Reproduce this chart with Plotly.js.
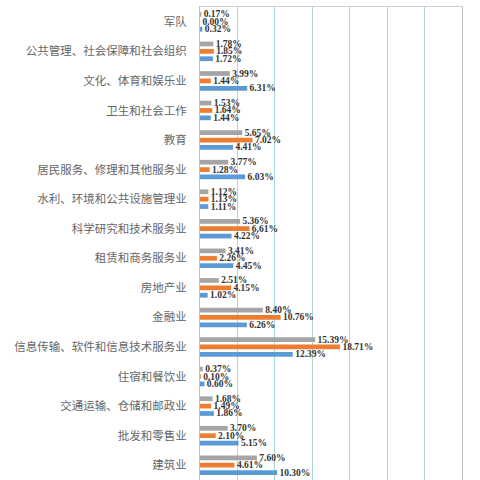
<!DOCTYPE html>
<html>
<head>
<meta charset="utf-8">
<script src="https://cdn.plot.ly/plotly-3.0.1.min.js"></script>
<style>
  html, body { margin: 0; padding: 0; background: #fff; }
  #chart { width: 480px; height: 480px; }
</style>
</head>
<body>
<div id="chart"></div>
<script>
// categories, top to bottom
const industries = [
    '军队', '公共管理、社会保障和社会组织', '文化、体育和娱乐业', '卫生和社会工作',
    '教育', '居民服务、修理和其他服务业', '水利、环境和公共设施管理业', '科学研究和技术服务业',
    '租赁和商务服务业', '房地产业', '金融业', '信息传输、软件和信息技术服务业',
    '住宿和餐饮业', '交通运输、仓储和邮政业', '批发和零售业', '建筑业'
];
const seriesNames = ['系列1', '系列2', '系列3'];
const greyValues = [0.17, 1.78, 3.99, 1.53, 5.65, 3.77, 1.12, 5.36, 3.41, 2.51, 8.40, 15.39, 0.37, 1.68, 3.70, 7.60];
const orangeValues = [0.00, 1.85, 1.44, 1.64, 7.02, 1.28, 1.13, 6.61, 2.26, 4.15, 10.76, 18.71, 0.10, 1.49, 2.10, 4.61];
const blueValues = [0.32, 1.72, 6.31, 1.44, 4.41, 6.03, 1.11, 4.22, 4.45, 1.02, 6.26, 12.39, 0.60, 1.86, 5.15, 10.30];

const colors = ['#A5A5A5', '#ED7D31', '#5B9BD5'];

const traces = [greyValues, orangeValues, blueValues].map((vals, i) => ({
    type: 'bar',
    orientation: 'h',
    name: seriesNames[i],
    x: vals,
    y: industries,
    marker: { color: colors[i] },
    // nbsp gives a little more room between bar end and label, like the original
    texttemplate: '\u00a0%{x:.2f}%',
    textposition: 'outside',
    constraintext: 'none',
    cliponaxis: false,
    textfont: { family: 'Liberation Serif, serif', size: 9.5, color: '#333', weight: 'bold' },
    hoverinfo: 'x+y'
}));

const layout = {
    width: 480, height: 480,
    margin: { l: 200, r: 18, t: 7, b: 0 },
    paper_bgcolor: '#fff', plot_bgcolor: '#fff',
    barmode: 'group', bargap: 0.25, bargroupgap: 0.36,
    showlegend: false,
    xaxis: {
        range: [0, 35], dtick: 5, showticklabels: false,
        showgrid: true, gridcolor: '#A9DADB', gridwidth: 1,
        zeroline: false, showline: true, mirror: true, linecolor: '#D0D0D0', linewidth: 1
    },
    yaxis: {
        type: 'category', range: [15.5, -0.5],
        showgrid: false, zeroline: false,
        showline: true, mirror: true, linecolor: '#BFBFBF', linewidth: 1,
        ticks: '', ticklabelstandoff: 10,
        tickfont: { family: 'Noto Sans CJK SC, sans-serif', size: 11.5, color: '#666' }
    }
};

Plotly.newPlot('chart', traces, layout, { staticPlot: true });
</script>
</body>
</html>
